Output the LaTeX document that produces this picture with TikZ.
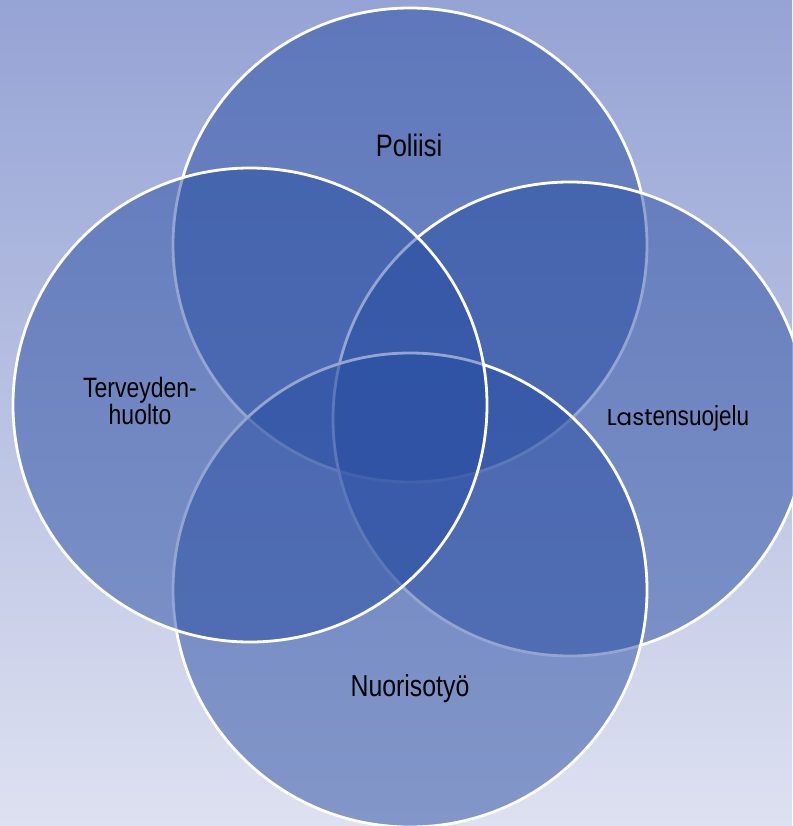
\documentclass[tikz,border=0pt]{standalone}
\usepackage{fontspec}
\setmainfont{Liberation Sans}[FakeStretch=0.82]
\newfontfamily\lastfont{Poppins}
\definecolor{bgtop}{RGB}{149,163,213}
\definecolor{bgbot}{RGB}{222,225,241}
\definecolor{vennfill}{RGB}{40,77,162}
\tikzset{
  venn/.style={circle, draw=white, line width=2.8pt, fill=vennfill, fill opacity=0.5,
    draw opacity=1, minimum size=474pt, inner sep=0pt},
  lbl/.style={text=black, anchor=base, inner sep=0pt, align=center}
}
\begin{document}
\begin{tikzpicture}[x=1pt,y=-1pt]
  \useasboundingbox (0,0) rectangle (792,826);
  \shade[top color=bgtop, bottom color=bgbot] (0,0) rectangle (792,826);
  \node[venn] (cTop) at (410,245) {};
  \node[venn] (cRight) at (570,419) {};
  \node[venn] (cBottom) at (410,590) {};
  \node[venn] (cLeft) at (250,405) {};
  \node[lbl, font=\fontsize{31}{33}\selectfont] (tPol) at (409,157) {Poliisi};
  \node[lbl, font=\fontsize{28}{27}\selectfont] (tTer) at (140,424) {Terveyden-\\huolto};
  \node[lbl, font=\fontsize{27.5}{29}\selectfont] (tLas) at (678,425) {{\lastfont\fontsize{23}{25}\selectfont Last}ensuojelu};
  \node[lbl, font=\fontsize{30.3}{32}\selectfont] (tNuo) at (410,696) {Nuorisotyö};
\end{tikzpicture}
\end{document}
